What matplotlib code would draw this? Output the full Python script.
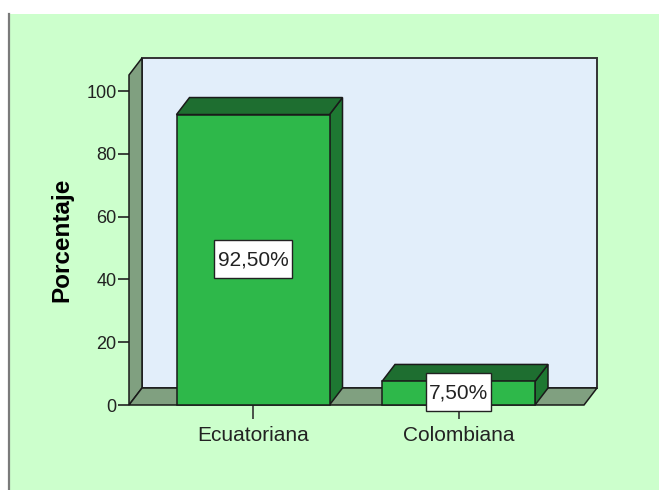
import matplotlib
matplotlib.use("Agg")
import matplotlib.pyplot as plt
from matplotlib.patches import Rectangle, Polygon
from matplotlib.lines import Line2D
from matplotlib.path import Path

plt.rcParams['font.family'] = ['Liberation Sans', 'DejaVu Sans']

# data
categorias = ['Ecuatoriana', 'Colombiana']
porcentajes = [92.5, 7.5]
etiquetas = ['92,50%', '7,50%']
yticks = [0, 20, 40, 60, 80, 100]

# colours
bg = '#ccffcc'
wall = '#80a080'
back = '#e2eefa'
front_c = '#2eb84a'
top_c = '#1e6e30'
side_c = '#1e7832'

W, H = 659, 490
fig = plt.figure(figsize=(W / 100, H / 100), dpi=100, facecolor='white')

# green panel and left border line (behind the axes)
fig.patches.append(Rectangle((8 / W, 0), 1 - 8 / W, (H - 14) / H,
                             transform=fig.transFigure, facecolor=bg,
                             edgecolor='none', zorder=-2))
fig.lines.append(Line2D([8.5 / W, 8.5 / W], [0, (H - 14) / H],
                        transform=fig.transFigure, color='#7a7a7a', lw=1.6,
                        zorder=-1))

ax = fig.add_axes([129 / W, (H - 405) / H, (584 - 129) / W, (405 - 75) / H])
ax.set_facecolor('none')

px_x = 205.5  # pixels per category unit
px_y = 3.14   # pixels per percent
x0, x1 = (129 - 253) / px_x, (584 - 253) / px_x
y0, y1 = 0, (405 - 75) / px_y
ax.set_xlim(x0, x1)
ax.set_ylim(y0, y1)

ddx = 13 / px_x
ddy = 17 / px_y
lw = 1.1
ec = '#1a1a1a'

# back wall
ax.add_patch(Rectangle((x0 + ddx, y0 + ddy), x1 - x0, y1 - y0,
                       facecolor=back, edgecolor='#333333', lw=1.4,
                       clip_on=False, zorder=1))
# left wall
ax.add_patch(Polygon([(x0, y0), (x0, y1), (x0 + ddx, y1 + ddy), (x0 + ddx, y0 + ddy)],
                     closed=True, facecolor=wall, edgecolor=ec, lw=lw,
                     clip_on=False, zorder=2))
# floor
ax.add_patch(Polygon([(x0, y0), (x1, y0), (x1 + ddx, y0 + ddy), (x0 + ddx, y0 + ddy)],
                     closed=True, facecolor=wall, edgecolor=ec, lw=lw,
                     clip_on=False, zorder=2))


# label box with more room above/below than at the sides
def caja(x, y, width, height, mutation_size):
    px = 0.16 * mutation_size
    pt = 0.5 * mutation_size
    pb = 0.4 * mutation_size
    verts = [(x - px, y - pb), (x + width + px, y - pb),
             (x + width + px, y + height + pt), (x - px, y + height + pt),
             (x - px, y - pb)]
    return Path(verts, closed=True)


bw = 153 / px_x
for i, (h, lab) in enumerate(zip(porcentajes, etiquetas)):
    l, r = i - bw / 2, i + bw / 2
    ax.add_patch(Polygon([(r, 0), (r + ddx, ddy), (r + ddx, h + ddy), (r, h)],
                         closed=True, facecolor=side_c, edgecolor=ec, lw=lw,
                         clip_on=False, zorder=3))
    ax.add_patch(Polygon([(l, h), (r, h), (r + ddx, h + ddy), (l + ddx, h + ddy)],
                         closed=True, facecolor=top_c, edgecolor=ec, lw=lw,
                         clip_on=False, zorder=3))
    ax.add_patch(Rectangle((l, 0), bw, h, facecolor=front_c, edgecolor=ec,
                           lw=lw, clip_on=False, zorder=4))
    ax.text(i, h / 2, lab, ha='center', va='center', fontsize=15, color='#222222',
            zorder=6,
            bbox=dict(boxstyle=caja, facecolor='white', edgecolor='#222222', lw=1))

for s in ax.spines.values():
    s.set_visible(False)

ax.set_yticks(yticks)
ax.set_yticklabels([str(t) for t in yticks])
ax.set_xticks(range(len(categorias)))
ax.set_xticklabels(categorias)
ax.tick_params(axis='y', direction='out', length=8, width=1.2, color='#222222',
               labelsize=13, labelcolor='#222222', pad=1)
ax.tick_params(axis='x', direction='out', length=10, width=1.2, color='#333333',
               labelsize=15, labelcolor='#222222', pad=5)

ax.set_ylabel('Porcentaje', fontsize=17.5, fontweight='bold', color='black')
ax.yaxis.set_label_coords((73 - 129) / (584 - 129), 0.5)

fig.savefig('out.png', dpi=100, facecolor=fig.get_facecolor())
